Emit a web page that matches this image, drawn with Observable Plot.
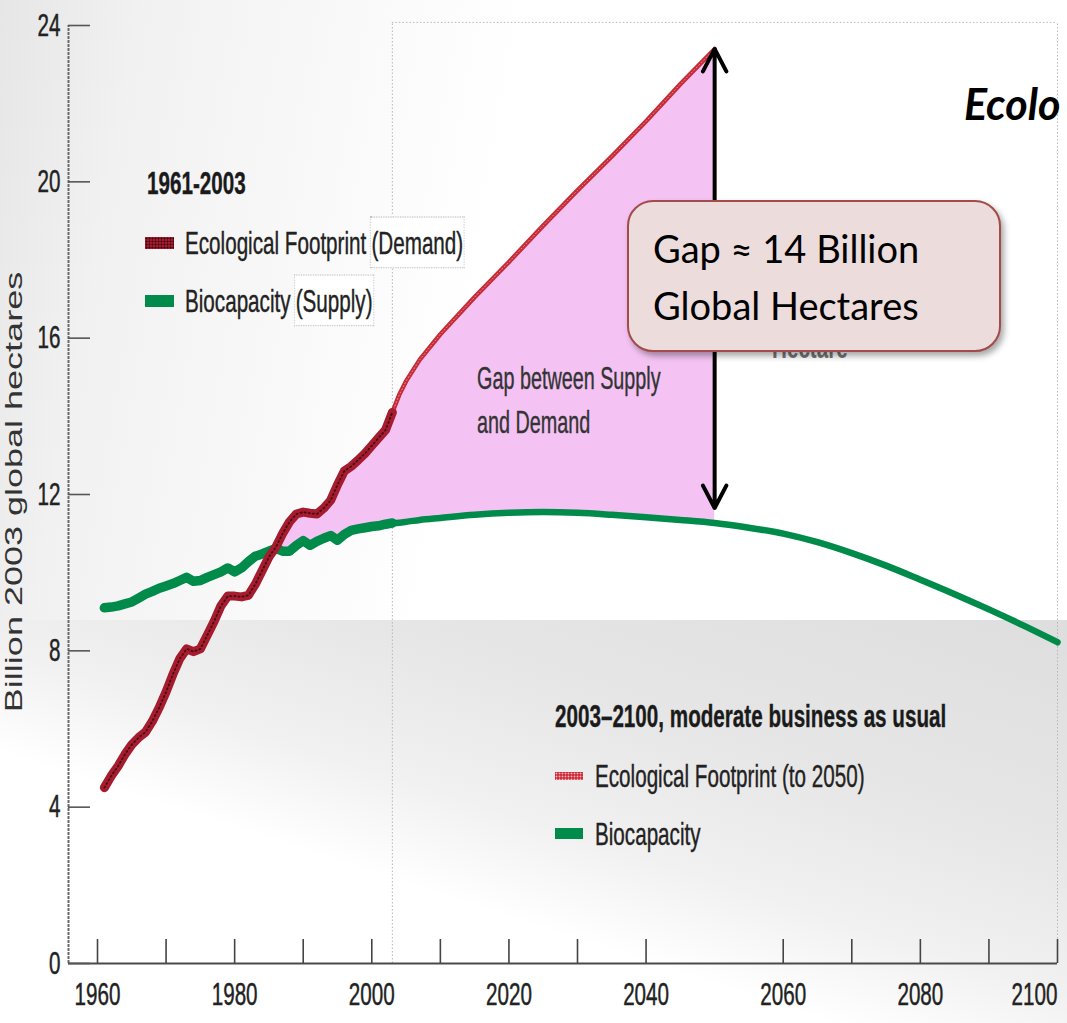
<!DOCTYPE html>
<html>
<head>
<meta charset="utf-8">
<script src="https://cdn.jsdelivr.net/npm/d3@7"></script>
<script src="https://cdn.jsdelivr.net/npm/@observablehq/plot@0.6"></script>
<style>
html,body{margin:0;padding:0;overflow:hidden;background:#fff;}
#wrap{position:relative;width:1067px;height:1023px;overflow:hidden;}
#bgTop{position:absolute;left:0;top:0;width:1067px;height:620px;background:linear-gradient(100deg,#e6e6e6 0%,#f1f1f1 12%,#f9f9f9 30%,#fff 45%);}
#bgBot{position:absolute;left:0;top:620px;width:1067px;height:403px;background:linear-gradient(18deg,#fff 0%,#fff 36%,#f1f1f1 50%,#e6e6e6 70%,#dedede 100%);}
#chart{position:absolute;left:0;top:0;}
.lbl{position:absolute;font-family:"Liberation Sans",Arial,sans-serif;font-size:24px;line-height:24px;white-space:nowrap;transform-origin:0 0;transform:scale(0.86,1.33);color:#222;-webkit-text-stroke:0.3px #222;}
.bold{font-weight:bold;color:#1a1a1a;}
.small{font-size:23px;line-height:23px;color:#333;-webkit-text-stroke:0.3px #333;}
.pbox{padding:5px 1px;margin-left:4px;border:1px dotted #c4c4c4;background:#fff;}
.sw{position:absolute;}
.swRedH{background-color:#a51c2e;background-image:radial-gradient(circle,rgba(40,0,8,.85) 0.7px,transparent 1.3px);background-size:3px 3px;}
.swRedP{background-color:#cf2f3d;background-image:radial-gradient(circle,rgba(255,200,205,.9) 0.6px,transparent 1.2px);background-size:3px 3px;}
.swGreen{background:#008b4b;}
#ytitle{position:absolute;left:14px;top:492px;font-family:"Liberation Sans",Arial,sans-serif;font-size:24px;line-height:24px;white-space:nowrap;color:#333;transform:translate(-50%,-50%) rotate(-90deg) scale(1.5,1);}
#box{position:absolute;left:627px;top:200px;width:374px;height:152px;box-sizing:border-box;background:#ecdcdc;border:2px solid #a14b4b;border-radius:26px;box-shadow:3px 4px 6px rgba(0,0,0,0.35);font-family:Lato,"Open Sans",sans-serif;font-size:38px;line-height:57px;padding:18px 0 0 24px;color:#000;white-space:nowrap;}
#title{position:absolute;left:964px;top:82px;font:italic bold 43px/43px Lato,"Open Sans",sans-serif;white-space:nowrap;color:#000;}
#hidden{position:absolute;left:772px;top:331px;color:#777;-webkit-text-stroke:0;}
</style>
</head>
<body>
<div id="wrap">
  <div id="bgTop"></div>
  <div id="bgBot"></div>
  <div id="chart"></div>
  <div id="ytitle">Billion 2003 global hectares</div>

  <div class="lbl bold" style="left:147px;top:167px;">1961-2003</div>
  <div class="sw swRedH" style="left:145px;top:237px;width:29px;height:12px;"></div>
  <div class="lbl" style="left:185px;top:227px;">Ecological Footprint<span class="pbox">(Demand)</span></div>
  <div class="sw swGreen" style="left:145px;top:295px;width:29px;height:12px;"></div>
  <div class="lbl" style="left:185px;top:285px;">Biocapacity<span class="pbox">(Supply)</span></div>

  <div class="lbl small" style="left:477px;top:364px;">Gap between Supply</div>
  <div class="lbl small" style="left:477px;top:408px;">and Demand</div>

  <div class="lbl bold" style="left:555px;top:700px;">2003–2100, moderate business as usual</div>
  <div class="sw swRedP" style="left:555px;top:772px;width:28px;height:8px;"></div>
  <div class="lbl" style="left:595px;top:760px;">Ecological Footprint (to 2050)</div>
  <div class="sw swGreen" style="left:555px;top:828px;width:28px;height:11px;"></div>
  <div class="lbl" style="left:595px;top:818px;">Biocapacity</div>

  <div class="lbl bold" id="hidden">Hectare</div>
  <div id="box">Gap ≈ 14 Billion<br>Global Hectares</div>
  <div id="title">Ecolo</div>
</div>
<script>
// ---- Data (billion 2003 global hectares) ----
const footHistYears = d3.range(1961, 2004);
const footHist = [4.5, 4.8, 5.05, 5.35, 5.6, 5.78, 5.92, 6.2, 6.55, 6.95,
  7.4, 7.8, 8.05, 7.98, 8.05, 8.4, 8.75, 9.15, 9.4, 9.4,
  9.38, 9.42, 9.7, 10.05, 10.4, 10.65, 11.0, 11.3, 11.5, 11.55,
  11.52, 11.5, 11.65, 11.85, 12.25, 12.6, 12.72, 12.88, 13.05, 13.25,
  13.45, 13.65, 14.1];
const footProjYears = [2003, 2004, 2005, 2007, 2010, 2015, 2020, 2025, 2030, 2035, 2040, 2045, 2050];
const footProj = [14.1, 14.55, 14.9, 15.45, 16.1, 17.05, 17.95, 18.88, 19.78, 20.65, 21.55, 22.5, 23.4];

const bioHistYears = d3.range(1961, 2004);
const bioHist = [9.1, 9.12, 9.15, 9.2, 9.25, 9.35, 9.45, 9.52, 9.6, 9.66,
  9.72, 9.8, 9.88, 9.78, 9.8, 9.88, 9.95, 10.02, 10.12, 10.02,
  10.12, 10.28, 10.42, 10.48, 10.55, 10.62, 10.55, 10.55, 10.7, 10.82,
  10.7, 10.8, 10.88, 10.95, 10.83, 10.98, 11.08, 11.12, 11.15, 11.18,
  11.2, 11.24, 11.27];
const bioProjYears = [2003, 2004, 2005, 2007, 2010, 2015, 2020, 2025, 2030, 2035, 2040, 2045, 2050,
  2055, 2060, 2065, 2070, 2075, 2080, 2085, 2090, 2095, 2100];
const bioProj = [11.27, 11.28, 11.3, 11.35, 11.4, 11.48, 11.53, 11.55, 11.53, 11.48, 11.42, 11.35, 11.27,
  11.15, 11.0, 10.78, 10.5, 10.18, 9.82, 9.45, 9.06, 8.65, 8.22];

const xTickYears = [1960, 1970, 1980, 1990, 2000, 2010, 2020, 2030, 2040, 2060, 2070, 2080, 2090, 2100];
const xLabelYears = [1960, 1980, 2000, 2020, 2040, 2060, 2080, 2100];
const yTickValues = [0, 4, 8, 12, 16, 20, 24];

const PROJ_START = 2003;
const GAP_YEAR = 2050;

// ---- Derived tables ----
const toRows = (years, vals) => years.map((year, i) => ({year, value: vals[i]}));
const footHistData = toRows(footHistYears, footHist);
const footProjData = toRows(footProjYears, footProj);
const bioHistData = toRows(bioHistYears, bioHist);
const bioProjData = toRows(bioProjYears, bioProj);

const footAll = new Map([...footHistData, ...footProjData].map(d => [d.year, d.value]));
const bioAll = new Map([...bioHistData, ...bioProjData].map(d => [d.year, d.value]));
const gapData = [...footAll.keys()]
  .filter(y => y >= 1985 && y <= GAP_YEAR && bioAll.has(y))
  .map(y => ({year: y, bio: bioAll.get(y), foot: Math.max(footAll.get(y), bioAll.get(y))}));

const foot2050 = footAll.get(GAP_YEAR), bio2050 = bioAll.get(GAP_YEAR);
const mid = (foot2050 + bio2050) / 2;

const X0 = 1955.77;     // left edge of the axis frame
const FRAME_TOP = 24.08;
const GREEN = "#008b4b";

const chart = Plot.plot({
  width: 1067,
  height: 1023,
  marginLeft: 68,
  marginRight: 10,
  marginTop: 25,
  marginBottom: 60,
  x: {domain: [X0, 2100]},
  y: {domain: [0, 24]},
  style: {fontFamily: "'Liberation Sans', Arial, sans-serif", background: "transparent", overflow: "visible"},
  marks: [
    Plot.ruleX([PROJ_START, 2100], {y1: 0, y2: FRAME_TOP, stroke: "#b8b8b8", strokeDasharray: "1.5 2"}),
    Plot.ruleY([FRAME_TOP], {x1: PROJ_START, x2: 2100, stroke: "#b8b8b8", strokeDasharray: "1.5 2"}),
    Plot.areaY(gapData, {x: "year", y1: "bio", y2: "foot", fill: "#f4c3f3"}),
    Plot.ruleX([X0], {y1: 0, y2: 24, stroke: "#6a6a6a", strokeWidth: 2, strokeDasharray: "3 1"}),
    Plot.ruleY([0], {stroke: "#4a4a4a", strokeWidth: 2}),
    Plot.axisX({ticks: xTickYears, tickSize: -24, fill: "none", stroke: "#444", strokeWidth: 1.6, label: null}),
    Plot.axisX({ticks: xLabelYears.slice(0, -1), tickSize: 0, tickPadding: 19, tickFormat: d => String(d), fontSize: 24, fill: "#222", label: null}),
    Plot.axisX({ticks: xLabelYears.slice(-1), tickSize: 0, tickPadding: 19, tickFormat: d => String(d), textAnchor: "end", fontSize: 24, fill: "#222", label: null}),
    Plot.axisY({ticks: yTickValues, tickSize: -22, fill: "none", stroke: "#555", strokeWidth: 1.6, label: null}),
    Plot.axisY({ticks: yTickValues, tickSize: 0, tickPadding: 8, tickFormat: d => String(d), fontSize: 24, fill: "#222", label: null}),
    Plot.line(bioProjData, {x: "year", y: "value", stroke: GREEN, strokeWidth: 6.5, curve: "monotone-x"}),
    Plot.line(bioHistData, {x: "year", y: "value", stroke: GREEN, strokeWidth: 9.5}),
    Plot.line(footProjData, {x: "year", y: "value", stroke: "#c52c38", strokeWidth: 4.5}),
    Plot.line(footProjData, {x: "year", y: "value", stroke: "#f0a8b0", strokeWidth: 1, strokeDasharray: "1 2.5", strokeOpacity: 0.8}),
    Plot.line(footHistData, {x: "year", y: "value", stroke: "#a51c2e", strokeWidth: 9}),
    Plot.line(footHistData, {x: "year", y: "value", stroke: "#2e0308", strokeWidth: 1.8, strokeDasharray: "1.2 3", strokeOpacity: 0.75}),
    Plot.arrow([{x: GAP_YEAR, y1: mid, y2: foot2050}], {x1: "x", x2: "x", y1: "y1", y2: "y2", stroke: "#000", strokeWidth: 4, headAngle: 55, headLength: 9.5}),
    Plot.arrow([{x: GAP_YEAR, y1: mid, y2: bio2050}], {x1: "x", x2: "x", y1: "y1", y2: "y2", stroke: "#000", strokeWidth: 4, headAngle: 55, headLength: 9.5, insetEnd: 15})
  ]
});

// condensed, vertically stretched tick-label lettering like the original
chart.querySelectorAll("text").forEach(t => {
  t.setAttribute("font-size", "24");
  t.style.fontSize = "24px";
  t.setAttribute("stroke", "#222");
  t.setAttribute("stroke-width", "0.35");
  let tr = t.getAttribute("transform");
  if (!tr) {
    const x = +t.getAttribute("x") || 0, y = +t.getAttribute("y") || 0;
    t.removeAttribute("x"); t.removeAttribute("y");
    tr = `translate(${x},${y})`;
  }
  t.setAttribute("transform", tr + " scale(0.86,1.33)");
});

document.getElementById("chart").appendChild(chart);
</script>
</body>
</html>
